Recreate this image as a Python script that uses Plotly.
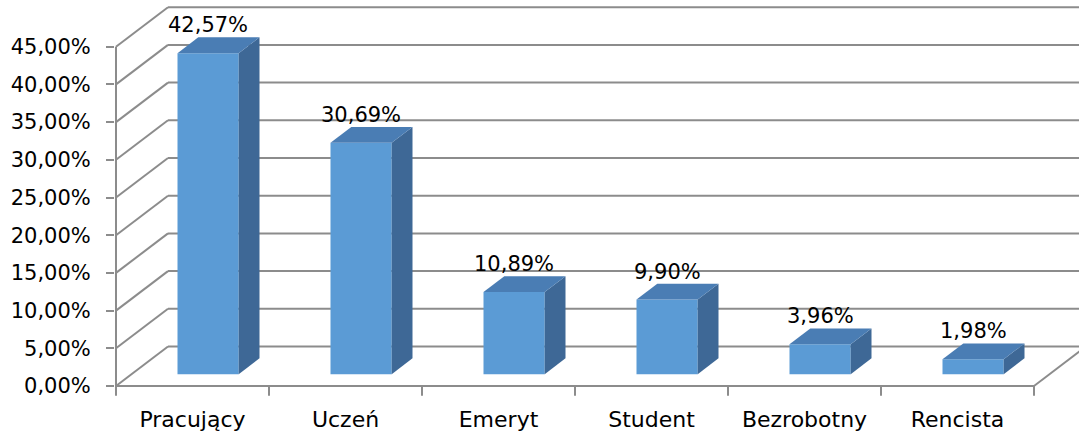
import plotly.graph_objects as go

# Data
categories = ["Pracujący", "Uczeń", "Emeryt", "Student", "Bezrobotny", "Rencista"]
values = [42.57, 30.69, 10.89, 9.90, 3.96, 1.98]
y_ticks = [0, 5, 10, 15, 20, 25, 30, 35, 40, 45]


def pct(v):
    return f"{v:.2f}".replace(".", ",") + "%"


y_tick_text = [pct(v) for v in y_ticks]

# Geometry of the pseudo-3D view (oblique projection)
W, H = 1079, 434
PX_X = 153.0           # pixels per category
PX_Y = 7.54            # pixels per percentage point
LEFT = 115             # left margin in pixels
ZERO_PX = 386          # pixel row of the front floor edge
DEPTH_DX = 52 / PX_X   # horizontal shift of the back wall (x units)
DEPTH_DY = 39.5 / PX_Y # vertical shift of the back wall (y units)
BAR_W = 0.4
F0, F_DEPTH = 0.30, 0.40   # bar front position and depth, as fraction of floor depth
Y_MAX = y_ticks[-1]

x_lo = -(116 - LEFT) / PX_X
x_hi = x_lo + (W - LEFT) / PX_X
bottom_px = 397
y_lo = -(bottom_px - ZERO_PX) / PX_Y
y_hi = y_lo + bottom_px / PX_Y

GRID = "#8c8c8c"
FRONT = "#5b9bd5"
TOP = "#4a7db4"
SIDE = "#3e6896"
FONT = "DejaVu Sans"
FS = 21
FS_CAT = 22

n = len(categories)
fig = go.Figure()

shapes = []
line_style = dict(color=GRID, width=2)

# Floor and wall gridlines: diagonal on the side wall, horizontal on the back wall
for v in y_ticks:
    shapes.append(dict(type="line", xref="x", yref="y", x0=0, y0=v,
                       x1=DEPTH_DX, y1=v + DEPTH_DY, line=line_style, layer="below"))
    shapes.append(dict(type="line", xref="x", yref="y", x0=DEPTH_DX, y0=v + DEPTH_DY,
                       x1=x_hi, y1=v + DEPTH_DY, line=line_style, layer="below"))

# Front floor edge, right floor edge and value axis
shapes.append(dict(type="line", xref="x", yref="y", x0=0, y0=0, x1=n, y1=0,
                   line=line_style, layer="below"))
shapes.append(dict(type="line", xref="x", yref="y", x0=n, y0=0,
                   x1=n + DEPTH_DX, y1=DEPTH_DY, line=line_style, layer="below"))
shapes.append(dict(type="line", xref="x", yref="y", x0=0, y0=0, x1=0, y1=Y_MAX,
                   line=line_style, layer="below"))

# Category boundary ticks
for i in range(n + 1):
    shapes.append(dict(type="line", xref="x", yref="y", x0=i, y0=0, x1=i, y1=-1.3,
                       line=line_style, layer="below"))

# Bars: front face via bar trace, top and side faces via paths
base = F0 * DEPTH_DY
bx = [i + 0.5 + F0 * DEPTH_DX for i in range(n)]
ddx = F_DEPTH * DEPTH_DX
ddy = F_DEPTH * DEPTH_DY

fig.add_trace(go.Bar(
    x=bx, y=values, base=[base] * n, width=BAR_W,
    marker=dict(color=FRONT, line=dict(width=0)),
    hoverinfo="skip", showlegend=False,
))

annotations = []
for cx, v in zip(bx, values):
    xl, xr = cx - BAR_W / 2, cx + BAR_W / 2
    yb, yt = base, base + v
    side = (f"M {xr},{yb} L {xr},{yt} L {xr + ddx},{yt + ddy} "
            f"L {xr + ddx},{yb + ddy} Z")
    top = (f"M {xl},{yt} L {xr},{yt} L {xr + ddx},{yt + ddy} "
           f"L {xl + ddx},{yt + ddy} Z")
    shapes.append(dict(type="path", xref="x", yref="y", path=side,
                       fillcolor=SIDE, line=dict(width=0), layer="above"))
    shapes.append(dict(type="path", xref="x", yref="y", path=top,
                       fillcolor=TOP, line=dict(width=0), layer="above"))
    annotations.append(dict(x=cx, y=yt + ddy, xref="x", yref="y", text=pct(v),
                            showarrow=False, yanchor="bottom", yshift=-2,
                            font=dict(family=FONT, size=FS, color="black")))

fig.update_layout(
    width=W, height=H, autosize=False,
    margin=dict(l=LEFT, r=0, t=0, b=H - bottom_px, pad=0),
    paper_bgcolor="white", plot_bgcolor="white",
    shapes=shapes, annotations=annotations,
    showlegend=False,
    font=dict(family=FONT, size=FS, color="black"),
)
fig.update_xaxes(
    range=[x_lo, x_hi], tickvals=[i + 0.5 for i in range(n)], ticktext=categories,
    ticks="", showgrid=False, zeroline=False, showline=False,
    tickfont=dict(family=FONT, size=FS_CAT, color="black"), ticklabelstandoff=7,
    fixedrange=True,
)
fig.update_yaxes(
    range=[y_lo, y_hi], tickvals=y_ticks, ticktext=y_tick_text,
    ticks="outside", ticklen=8, tickwidth=2, tickcolor=GRID,
    showgrid=False, zeroline=False, showline=False,
    tickfont=dict(family=FONT, size=FS, color="black"), ticklabelstandoff=11,
    fixedrange=True,
)

fig.write_html("out.html", config={"displayModeBar": False})
